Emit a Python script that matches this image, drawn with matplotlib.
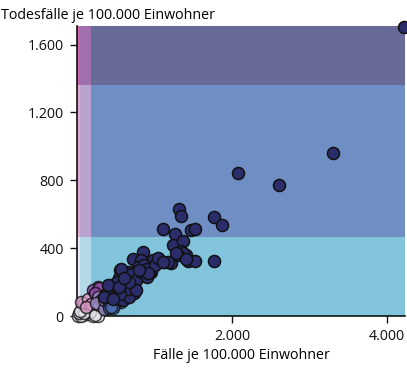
import numpy as np
import matplotlib
matplotlib.use("Agg")
import matplotlib.pyplot as plt
from matplotlib.ticker import FuncFormatter

plt.rcParams['font.family'] = ['Open Sans', 'DejaVu Sans']

# Klassengrenzen der bivariaten Hintergrundflaechen
x_breaks = [0, 45, 180, 4230]
y_breaks = [0, 465, 1360, 1710]
# Zeilen: y niedrig -> hoch, Spalten: x niedrig -> hoch
band_colors = [
    ['#e9e9f1', '#b4d8e7', '#81c4dc'],
    ['#e2a9d2', '#b9a2cd', '#6f8fc4'],
    ['#d062a9', '#a070ae', '#686a9a'],
]

# Punkte nach Farbklasse
navy_x = [4220, 3300, 2073, 2602, 1772, 1867, 1764, 1320, 1342, 1113, 1471, 1526,
          1268, 1234, 1363, 1342, 1406, 1428, 1523, 1363, 848, 719, 826, 977, 1119,
          1213, 1299, 1170, 559, 654, 783, 868, 955, 804, 697, 546, 439, 525, 610,
          739, 632, 739, 503, 417, 590, 675, 632, 933, 900, 1000, 1050, 700, 600,
          480, 450, 380, 350, 520, 660, 760, 820, 900, 560, 470, 400,
          761, 911, 804, 675, 546, 1277, 1106, 1406, 568, 610]
navy_y = [1705, 963, 841, 770, 586, 539, 322, 633, 588, 511, 506, 515,
          486, 421, 441, 382, 359, 323, 323, 369, 378, 339, 329, 329, 319,
          310, 359, 319, 271, 261, 290, 300, 261, 231, 222, 222, 182, 172, 182,
          182, 143, 134, 114, 153, 94, 114, 222, 251, 280, 300, 340, 250, 200,
          150, 120, 130, 110, 200, 160, 210, 260, 230, 130, 100, 180,
          153, 251, 270, 202, 172, 369, 319, 339, 280, 222]

blue_x = [417, 503, 568, 417, 525, 481, 460, 439]
blue_y = [65, 75, 84, 45, 94, 65, 50, 55]

lilac_x = [267, 332, 288, 374, 310, 245, 396, 350, 352]
lilac_y = [114, 94, 65, 55, 94, 75, 65, 40, 94]

magenta_x = [267, 203, 288, 230]
magenta_y = [172, 153, 163, 135]

pink_x = [94, 52, 146, 181, 120]
pink_y = [75, 84, 98, 70, 55]

light_x = [9, 74, 138, 52, 203, 116, 267, 26, 168, 95, 230, 40]
light_y = [2, 6, 12, 0, 2, 35, 0, 18, 24, 20, 8, 30]

fig = plt.figure(figsize=(4.07, 3.68), dpi=100)
ax = fig.add_axes([77 / 407, 1 - 316 / 368, 328 / 407, 290 / 368])

# Hintergrund
for i in range(3):
    for j in range(3):
        ax.add_patch(plt.Rectangle((x_breaks[j], y_breaks[i]),
                                   x_breaks[j + 1] - x_breaks[j],
                                   y_breaks[i + 1] - y_breaks[i],
                                   facecolor=band_colors[i][j], edgecolor='none', zorder=0))

groups = [
    (light_x, light_y, '#e4e4ec', 0.75),
    (pink_x, pink_y, '#d99bc9', 0.8),
    (magenta_x, magenta_y, '#8f4aa7', 0.85),
    (lilac_x, lilac_y, '#9e8dc9', 0.8),
    (blue_x, blue_y, '#4c6db3', 0.8),
    (navy_x, navy_y, '#2b2d6b', 1.0),
]
for gx, gy, c, a in groups:
    ax.scatter(gx, gy, s=75, c=c, edgecolors='#111111', linewidths=1.1,
               alpha=a, zorder=3, clip_on=False)

ax.set_xlim(0, 4230)
ax.set_ylim(0, 1710)
ax.set_xticks([2000, 4000])
ax.set_yticks([0, 400, 800, 1200, 1600])
fmt = FuncFormatter(lambda v, p: '{:,.0f}'.format(v).replace(',', '.'))
ax.xaxis.set_major_formatter(fmt)
ax.yaxis.set_major_formatter(fmt)
ax.tick_params(length=5, width=1, labelsize=10.3, pad=4.5, colors='#111111')

for s in ['top', 'right']:
    ax.spines[s].set_visible(False)
for s in ['left', 'bottom']:
    ax.spines[s].set_linewidth(1.1)

ax.set_xlabel('Fälle je 100.000 Einwohner', fontsize=10.3, labelpad=3)
fig.text(0.002, 1 - 19 / 368, 'Todesfälle je 100.000 Einwohner', fontsize=10.3, va='baseline')

fig.savefig('out.png', dpi=100)
